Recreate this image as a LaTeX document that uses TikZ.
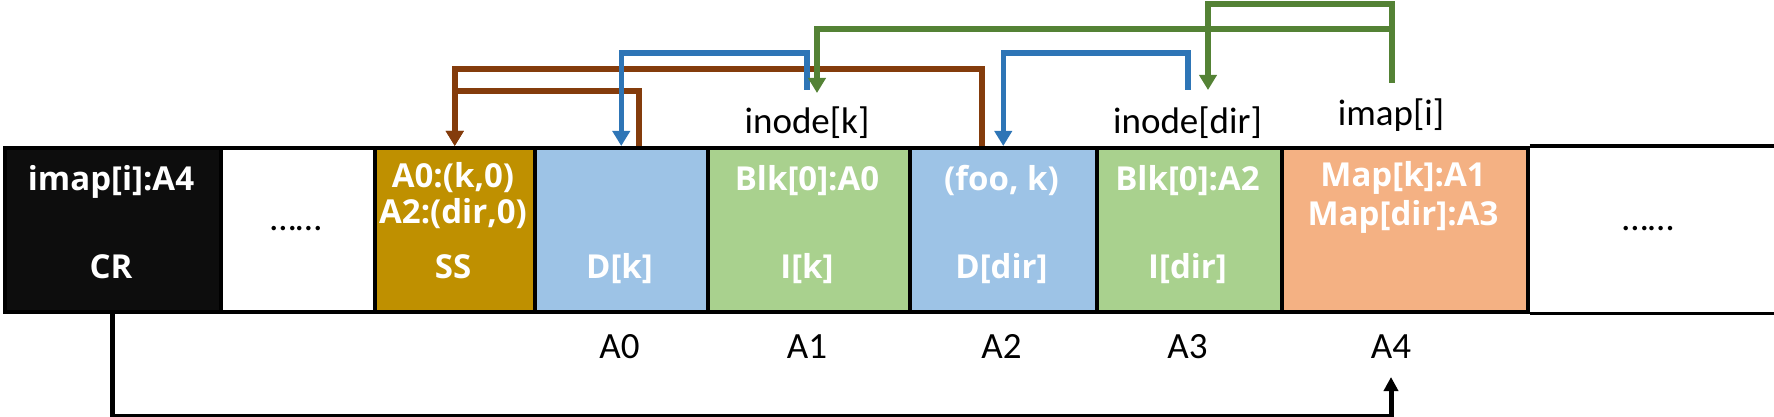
\documentclass[tikz,border=0pt]{standalone}
\usepackage{fontspec}
\setmainfont{Carlito}
\newfontfamily\wfont{Open Sans}
\usetikzlibrary{arrows.meta,calc}
\definecolor{cgold}{HTML}{BF9000}
\definecolor{cblue}{HTML}{9DC3E6}
\definecolor{cgreen}{HTML}{A9D18E}
\definecolor{corange}{HTML}{F4B183}
\definecolor{cblack}{HTML}{0D0D0D}
\definecolor{lbrown}{HTML}{843C0C}
\definecolor{lblue}{HTML}{2E75B6}
\definecolor{lgreen}{HTML}{548235}
\begin{document}
\begin{tikzpicture}[x=1pt,y=-1pt,
 cell/.style={draw=black,line width=3.5pt,minimum height=164pt,inner sep=0pt,anchor=north west},
 wtxt/.style={text=white,font=\wfont\bfseries\fontsize{33}{40}\selectfont,anchor=base,inner sep=0pt},
 lbl/.style={font=\fontsize{37}{40}\selectfont,anchor=base,inner sep=0pt},
 conn/.style={line width=5.5pt},
 tip/.style={-{Triangle[width=17pt,length=15pt]}}]
\useasboundingbox (0,0) rectangle (1774,417);
% cells
\node[cell,fill=cblack,minimum width=216pt] (CR) at (3,146) {};
\node[cell,fill=white,minimum width=154pt] (dots1) at (219,146) {};
\node[cell,fill=cgold,minimum width=160pt] (SS) at (373,146) {};
\node[cell,fill=cblue,minimum width=173pt] (Dk) at (533,146) {};
\node[cell,fill=cgreen,minimum width=202pt] (Ik) at (706,146) {};
\node[cell,fill=cblue,minimum width=187pt] (Ddir) at (908,146) {};
\node[cell,fill=cgreen,minimum width=185pt] (Idir) at (1095,146) {};
\node[cell,fill=corange,minimum width=246pt] (Map) at (1280,146) {};
\draw[line width=3.5pt] (Map.north east) -- ++(244,0) coordinate (topend);
\draw[line width=3.5pt] (Map.south east) -- ++(244,0) coordinate (botend);
% texts in cells
\node[wtxt] (t1) at (111,190) {imap[i]:A4};
\node[wtxt] (t2) at (111,278) {CR};
\node[lbl] (t3) at (296,230) {……};
\node[wtxt] (t4) at (453,187) {A0:(k,0)};
\node[wtxt] (t5) at (453,223) {A2:(dir,0)};
\node[wtxt] (t6) at (453,278) {SS};
\node[wtxt] (t7) at (619.5,278) {D[k]};
\node[wtxt] (t8) at (807,190) {Blk[0]:A0};
\node[wtxt] (t9) at (807,278) {I[k]};
\node[wtxt] (t10) at (1001.5,190) {(foo, k)};
\node[wtxt] (t11) at (1001.5,278) {D[dir]};
\node[wtxt] (t12) at (1187.5,190) {Blk[0]:A2};
\node[wtxt] (t13) at (1187.5,278) {I[dir]};
\node[wtxt] (t14) at (1403,186) {Map[k]:A1};
\node[wtxt] (t15) at (1403,225) {Map[dir]:A3};
\node[lbl] (t16) at (1648,230) {……};
% labels above
\node[lbl] (lk) at (807,133) {inode[k]};
\node[lbl] (ldir) at (1187.5,133) {inode[dir]};
\node[lbl] (limap) at (1391,125) {imap[i]};
% address labels
\node[lbl] (a0) at (619.5,358) {A0};
\node[lbl] (a1) at (807,358) {A1};
\node[lbl] (a2) at (1001.5,358) {A2};
\node[lbl] (a3) at (1187.5,358) {A3};
\node[lbl] (a4) at (1391,358) {A4};
% connector ends
\coordinate (bkA) at (807,90);
\coordinate (bkB) at (1188,90);
\coordinate (gA) at (817,93);
\coordinate (gB) at (1208,90);
\coordinate (gS) at (1392,83);
\coordinate (A4t) at (1391,377);
% brown
\draw[conn,lbrown,tip] ($(Ddir.north west)+(74,0)$) -- ++(0,-77) -| (SS.north);
\draw[conn,lbrown,tip] ($(Dk.north west)+(106,0)$) -- ++(0,-55) -| (SS.north);
% blue
\draw[conn,lblue,tip] (bkA) -- ++(0,-37) -| (Dk.north);
\draw[conn,lblue,tip] (bkB) -- ++(0,-37) -| (Ddir.north);
% green
\draw[conn,lgreen,tip] (gS) -- ++(0,-54) -| (gA);
\draw[conn,lgreen,tip] (gS) -- ++(0,-79) -| (gB);
% black
\draw[line width=5pt,-{Triangle[width=14pt,length=14pt]}] (CR.south) -- ++(0,103) -| (A4t);
\end{tikzpicture}
\end{document}
